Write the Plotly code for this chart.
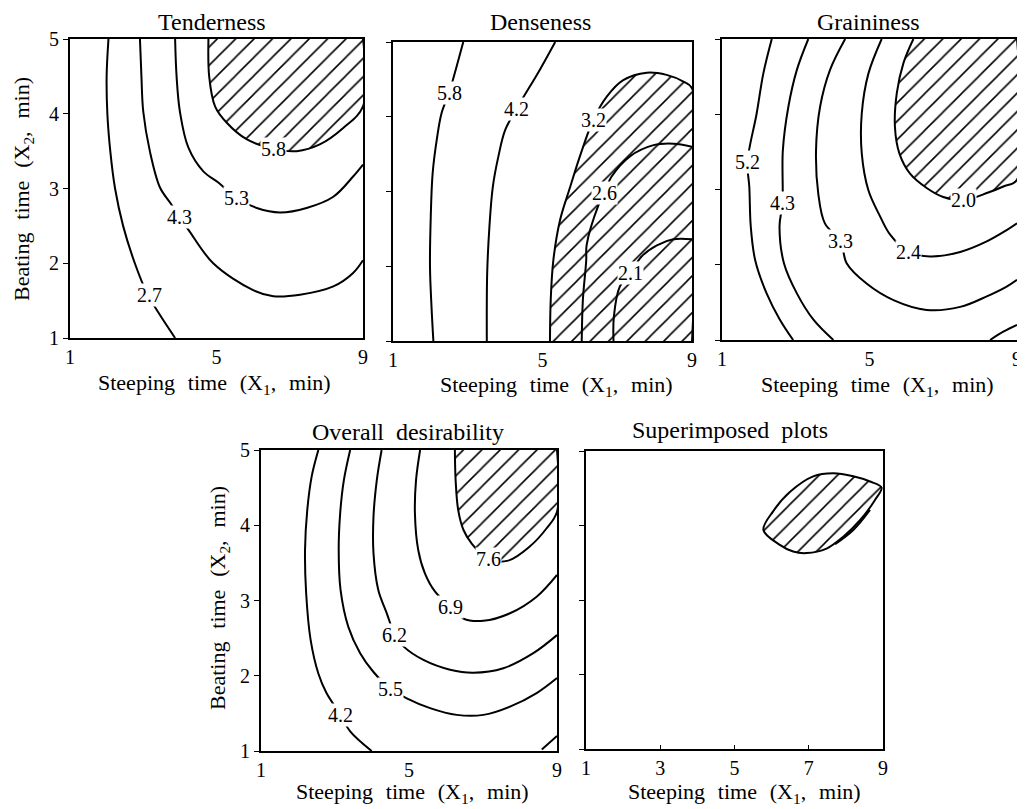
import plotly.graph_objects as go

# page offset of the plot inside the browser window (default body margin)
OFF = 8
W, H = 1025 - OFF, 809 - OFF
FAMILY = "Liberation Serif, Times New Roman, serif"

# ---------------- data ----------------
# Tenderness
T27_X = [2.05, 2.0, 2.02, 2.1, 2.23, 2.45, 2.77, 3.1, 3.4, 3.87]
T27_Y = [5.0, 4.5, 4.0, 3.5, 3.0, 2.5, 2.0, 1.6, 1.35, 1.0]
T43_X = [2.91, 2.95, 3.0, 3.18, 3.46, 3.75, 3.98, 4.23, 4.91, 6.0, 6.55, 7.28, 8.19, 8.73, 9.0]
T43_Y = [5.0, 4.5, 4.03, 3.5, 3.01, 2.8, 2.62, 2.45, 2.0, 1.64, 1.56, 1.58, 1.69, 1.87, 2.04]
T53_X = [3.87, 3.91, 4.0, 4.23, 4.64, 5.05, 5.55, 6.1, 6.73, 7.46, 8.19, 8.73, 9.0]
T53_Y = [5.0, 4.5, 4.03, 3.55, 3.23, 3.08, 2.87, 2.74, 2.68, 2.74, 2.89, 3.16, 3.32]
T58_X = [4.78, 4.80, 4.96, 5.28, 5.82, 6.55, 7.19, 7.82, 8.46, 9.0, 9.0]
T58_Y = [5.0, 4.5, 4.1, 3.88, 3.66, 3.53, 3.5, 3.59, 3.81, 4.1, 5.0]
T_LAB = ["2.7", "4.3", "5.3", "5.8"]
T_LAB_X = [3.16, 3.98, 5.55, 6.55]
T_LAB_Y = [1.58, 2.62, 2.87, 3.53]

# Denseness
D58_X = [2.88, 2.70, 2.5, 2.30, 2.17, 2.06, 2.01, 1.99, 2.03, 2.08]
D58_Y = [5.0, 4.67, 4.32, 4.05, 3.69, 3.24, 2.66, 1.99, 1.46, 1.0]
D42_X = [5.34, 4.93, 4.31, 4.0, 3.82, 3.67, 3.58, 3.52, 3.51]
D42_Y = [5.0, 4.63, 4.11, 3.82, 3.47, 3.06, 2.53, 1.91, 1.0]
D32_X = [5.2, 5.22, 5.29, 5.47, 5.74, 6.0, 6.36, 6.72, 7.16, 7.79, 8.32, 8.77, 9.0, 9.0]
D32_Y = [1.0, 1.55, 2.08, 2.62, 3.06, 3.47, 3.96, 4.27, 4.49, 4.59, 4.56, 4.47, 4.38, 1.0]
D26_X = [6.05, 6.08, 6.17, 6.18, 6.5, 6.65, 6.85, 7.34, 7.97, 8.5, 9.0]
D26_Y = [1.0, 1.55, 2.08, 2.28, 2.82, 2.98, 3.2, 3.47, 3.62, 3.64, 3.6]
D21_X = [6.9, 6.91, 7.07, 7.36, 7.65, 8.06, 8.5, 9.0]
D21_Y = [1.0, 1.33, 1.73, 1.91, 2.13, 2.28, 2.36, 2.36]
D_LAB = ["5.8", "4.2", "3.2", "2.6", "2.1"]
D_LAB_X = [2.5, 4.31, 6.36, 6.65, 7.36]
D_LAB_Y = [4.32, 4.11, 3.96, 2.98, 1.91]

# Graininess
G52_X = [2.35, 2.12, 1.94, 1.69, 1.74, 1.78, 1.9, 2.21, 2.57, 2.93]
G52_Y = [5.0, 4.54, 4.01, 3.36, 3.04, 2.51, 2.06, 1.62, 1.27, 1.0]
G43_X = [3.34, 3.03, 2.8, 2.65, 2.64, 2.56, 2.68, 3.03, 3.48, 4.02]
G43_Y = [5.0, 4.59, 4.1, 3.52, 2.82, 2.51, 2.02, 1.62, 1.27, 1.0]
G33_X = [4.34, 3.93, 3.66, 3.55, 3.61, 3.79, 4.22, 4.38, 4.92, 5.65, 6.55, 7.46, 8.18, 8.72, 9.0]
G33_Y = [5.0, 4.59, 4.1, 3.52, 2.95, 2.55, 2.31, 2.02, 1.75, 1.53, 1.4, 1.44, 1.58, 1.71, 1.8]
G24_X = [5.33, 4.97, 4.79, 4.79, 4.97, 5.29, 5.56, 6.05, 6.64, 7.46, 8.18, 8.72, 9.0]
G24_Y = [5.0, 4.54, 4.01, 3.48, 2.99, 2.64, 2.4, 2.17, 2.11, 2.17, 2.31, 2.46, 2.55]
G20_X = [6.19, 5.92, 5.74, 5.69, 5.81, 6.1, 6.55, 7.0, 7.56, 8.22, 8.63, 9.0, 9.0]
G20_Y = [5.0, 4.68, 4.28, 3.83, 3.48, 3.21, 3.02, 2.9, 2.86, 2.96, 3.04, 3.13, 5.0]
G_CORNER_X = [8.27, 8.63, 9.0]
G_CORNER_Y = [1.0, 1.11, 1.2]
G_LAB = ["5.2", "4.3", "3.3", "2.4", "2.0"]
G_LAB_X = [1.69, 2.64, 4.22, 6.05, 7.56]
G_LAB_Y = [3.36, 2.82, 2.31, 2.17, 2.86]

# Overall desirability
O42_X = [2.55, 2.37, 2.25, 2.19, 2.22, 2.34, 2.55, 2.77, 3.15, 3.41, 3.99]
O42_Y = [5.0, 4.65, 4.2, 3.67, 3.1, 2.48, 2.03, 1.77, 1.48, 1.26, 1.0]
O55_X = [3.41, 3.24, 3.14, 3.1, 3.15, 3.36, 3.68, 4.04, 4.49, 4.94, 5.57, 6.29, 7.01, 7.73, 8.45, 9.0]
O55_Y = [5.0, 4.6, 4.16, 3.67, 3.14, 2.65, 2.3, 2.05, 1.83, 1.7, 1.57, 1.48, 1.48, 1.59, 1.77, 1.97]
O62_X = [4.26, 4.13, 4.04, 4.04, 4.17, 4.4, 4.62, 4.85, 5.39, 6.11, 6.74, 7.55, 8.36, 9.0]
O62_Y = [5.0, 4.6, 4.11, 3.63, 3.14, 2.83, 2.54, 2.39, 2.21, 2.08, 2.04, 2.1, 2.3, 2.54]
O69_X = [5.3, 5.19, 5.16, 5.25, 5.43, 5.7, 6.11, 6.47, 7.01, 7.73, 8.45, 9.0]
O69_Y = [5.0, 4.6, 4.16, 3.67, 3.36, 3.12, 2.92, 2.76, 2.73, 2.83, 3.05, 3.34]
O76_X = [6.24, 6.26, 6.33, 6.47, 6.69, 7.14, 7.68, 8.27, 8.72, 9.0, 9.0]
O76_Y = [5.0, 4.6, 4.2, 3.94, 3.76, 3.55, 3.53, 3.72, 3.96, 4.18, 5.0]
O_CORNER_X = [8.59, 9.0]
O_CORNER_Y = [1.02, 1.2]
O_LAB = ["4.2", "5.5", "6.2", "6.9", "7.6"]
O_LAB_X = [3.15, 4.49, 4.62, 6.11, 7.14]
O_LAB_Y = [1.48, 1.83, 2.54, 2.92, 3.55]

# Superimposed plots (overlap region)
S_X = [5.78, 6.04, 6.49, 7.12, 7.66, 8.2, 8.65, 8.96, 8.78, 8.38, 7.93, 7.48, 6.94, 6.58, 6.22, 5.78]
S_Y = [3.94, 4.19, 4.45, 4.66, 4.7, 4.66, 4.59, 4.51, 4.34, 4.07, 3.85, 3.69, 3.63, 3.65, 3.74, 3.94]
S_INNER_X = [7.71, 8.2, 8.65]
S_INNER_Y = [3.75, 3.94, 4.21]

X_TICKS_3 = [1, 5, 9]
X_TICKS_5 = [1, 3, 5, 7, 9]
Y_TICKS = [1, 2, 3, 4, 5]

TITLES = ["Tenderness", "Denseness", "Graininess", "Overall \u00a0desirability", "Superimposed \u00a0plots"]
SP = " \u00a0\u200a"
X_TITLE = f"Steeping{SP}time{SP}(X<sub>1</sub>,{SP}min)"
Y_TITLE = f"Beating{SP}time{SP}(X<sub>2</sub>,{SP}min)"

# ---------------- layout geometry (window pixels) ----------------
PANELS = [
    dict(box=(70, 363, 39, 338), ylab=True, xt=X_TICKS_3, title_xy=(212, 22), xt_xy=(214, 384), yt_xy=(23, 189)),
    dict(box=(393, 692, 42, 341), ylab=False, xt=X_TICKS_3, title_xy=(540, 22), xt_xy=(556, 386), yt_xy=None),
    dict(box=(722, 1017, 39, 340), ylab=False, xt=X_TICKS_3, title_xy=(868, 22), xt_xy=(877, 386), yt_xy=None),
    dict(box=(261, 557, 450, 751), ylab=True, xt=X_TICKS_3, title_xy=(408, 432), xt_xy=(412, 793), yt_xy=(219, 598)),
    dict(box=(586, 883, 451, 749), ylab=False, xt=X_TICKS_5, title_xy=(730, 430), xt_xy=(744, 793), yt_xy=None),
]


def px(x):
    return (x - OFF) / W


def py(y):
    return 1 - (y - OFF) / H


fig = go.Figure()
LINE = dict(color="black", width=2, shape="spline", smoothing=1.0)
HATCH = dict(shape="/", size=13, solidity=0.12, fgcolor="black", fgopacity=1.0,
             bgcolor="white", fillmode="replace")


def ax_names(i):
    return ("x" if i == 1 else f"x{i}"), ("y" if i == 1 else f"y{i}")


def add_line(i, xs, ys):
    xa, ya = ax_names(i)
    fig.add_trace(go.Scatter(x=xs, y=ys, mode="lines", line=LINE, xaxis=xa, yaxis=ya,
                             hoverinfo="skip", showlegend=False))


def add_hatched(i, xs, ys):
    xa, ya = ax_names(i)
    fig.add_trace(go.Scatter(x=xs, y=ys, mode="lines", line=LINE, fill="toself",
                             fillcolor="white", fillpattern=HATCH, xaxis=xa, yaxis=ya,
                             hoverinfo="skip", showlegend=False))


def add_labels(i, texts, xs, ys):
    xa, ya = ax_names(i)
    for t, x, y in zip(texts, xs, ys):
        fig.add_annotation(x=x, y=y, xref=xa, yref=ya, text=t, showarrow=False,
                           bgcolor="white", borderpad=0,
                           font=dict(family=FAMILY, size=20, color="black"))


# Tenderness
add_hatched(1, T58_X, T58_Y)
add_line(1, T27_X, T27_Y)
add_line(1, T43_X, T43_Y)
add_line(1, T53_X, T53_Y)
add_labels(1, T_LAB, T_LAB_X, T_LAB_Y)

# Denseness
add_hatched(2, D32_X, D32_Y)
add_line(2, D58_X, D58_Y)
add_line(2, D42_X, D42_Y)
add_line(2, D26_X, D26_Y)
add_line(2, D21_X, D21_Y)
add_labels(2, D_LAB, D_LAB_X, D_LAB_Y)

# Graininess
add_hatched(3, G20_X, G20_Y)
add_line(3, G52_X, G52_Y)
add_line(3, G43_X, G43_Y)
add_line(3, G33_X, G33_Y)
add_line(3, G24_X, G24_Y)
add_line(3, G_CORNER_X, G_CORNER_Y)
add_labels(3, G_LAB, G_LAB_X, G_LAB_Y)

# Overall desirability
add_hatched(4, O76_X, O76_Y)
add_line(4, O42_X, O42_Y)
add_line(4, O55_X, O55_Y)
add_line(4, O62_X, O62_Y)
add_line(4, O69_X, O69_Y)
add_line(4, O_CORNER_X, O_CORNER_Y)
add_labels(4, O_LAB, O_LAB_X, O_LAB_Y)

# Superimposed
add_hatched(5, S_X, S_Y)
add_line(5, S_INNER_X, S_INNER_Y)

layout = dict(width=W, height=H, margin=dict(l=0, r=0, t=0, b=0, autoexpand=False),
              paper_bgcolor="white", plot_bgcolor="white", showlegend=False,
              font=dict(family=FAMILY, size=20, color="black"))

TICKFONT = dict(family=FAMILY, size=20, color="black")
for i, p in enumerate(PANELS, start=1):
    x0, x1, y0, y1 = p["box"]
    xk = "xaxis" if i == 1 else f"xaxis{i}"
    yk = "yaxis" if i == 1 else f"yaxis{i}"
    xa, ya = ax_names(i)
    layout[xk] = dict(domain=[px(x0), px(x1)], range=[1, 9], anchor=ya, showline=True, mirror=True,
                      linewidth=2, linecolor="black", showgrid=False, zeroline=False,
                      tickmode="array", tickvals=p["xt"], ticktext=[str(v) for v in p["xt"]],
                      ticks="inside" if i == 5 else "", ticklen=4, tickcolor="black",
                      tickfont=TICKFONT, ticklabelstandoff=0, automargin=False, fixedrange=True)
    layout[yk] = dict(domain=[py(y1), py(y0)], range=[1, 5], anchor=xa, showline=True, mirror=True,
                      linewidth=2, linecolor="black", showgrid=False, zeroline=False,
                      tickmode="array", tickvals=Y_TICKS, ticktext=[str(v) for v in Y_TICKS],
                      ticks="outside", ticklen=5, tickcolor="black", showticklabels=p["ylab"],
                      tickfont=TICKFONT, automargin=False, fixedrange=True)

fig.update_layout(**layout)

for i, p in enumerate(PANELS):
    tx, ty = p["title_xy"]
    fig.add_annotation(x=px(tx), y=py(ty), xref="paper", yref="paper", text=TITLES[i],
                       showarrow=False, xanchor="center", yanchor="middle",
                       font=dict(family=FAMILY, size=24, color="black"))
    ax_, ay_ = p["xt_xy"]
    fig.add_annotation(x=px(ax_), y=py(ay_), xref="paper", yref="paper", text=X_TITLE,
                       showarrow=False, xanchor="center", yanchor="middle",
                       font=dict(family=FAMILY, size=22, color="black"))
    if p["yt_xy"]:
        yx, yy = p["yt_xy"]
        fig.add_annotation(x=px(yx), y=py(yy), xref="paper", yref="paper", text=Y_TITLE,
                           showarrow=False, xanchor="center", yanchor="middle", textangle=-90,
                           font=dict(family=FAMILY, size=22, color="black"))

fig.write_html("out.html")
